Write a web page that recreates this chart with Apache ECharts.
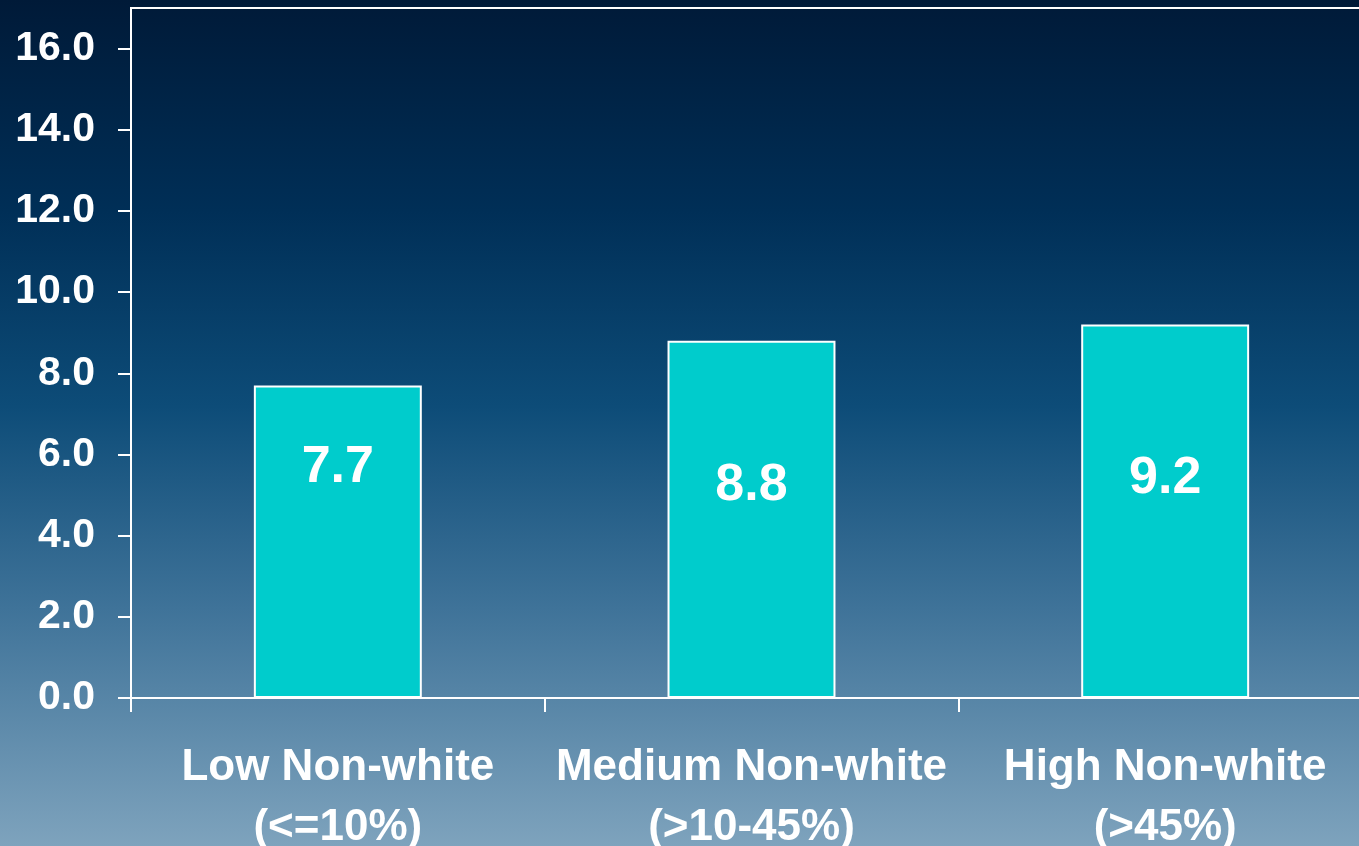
<!DOCTYPE html>
<html>
<head>
<meta charset="utf-8">
<script src="https://cdn.jsdelivr.net/npm/echarts@6/dist/echarts.min.js"></script>
<style>
html,body{margin:0;padding:0;width:1359px;height:846px;overflow:hidden;}
#chart{width:1359px;height:846px;}
</style>
</head>
<body>
<div id="chart"></div>
<script>
// Data
const categories = ['Low Non-white\n(<=10%)', 'Medium Non-white\n(>10-45%)', 'High Non-white\n(>45%)'];
const values = [7.7, 8.8, 9.2];
const yTicks = [0, 2, 4, 6, 8, 10, 12, 14, 16];
// label vertical offsets (styling)
const labelOffsets = [-74, -34, -33];

const chart = echarts.init(document.getElementById('chart'));
const font = '"Liberation Sans", Arial, sans-serif';

const option = {
  backgroundColor: {
    type: 'linear', x: 0, y: 0, x2: 0, y2: 1,
    colorStops: [
      { offset: 0, color: '#001a38' },
      { offset: 0.25, color: '#002f57' },
      { offset: 0.48, color: '#0d4c78' },
      { offset: 0.72, color: '#3f7399' },
      { offset: 1, color: '#7ea3bd' }
    ]
  },
  animation: false,
  grid: {
    left: 131, right: -13, top: 8, bottom: 148,
    outerBoundsMode: 'none', containLabel: false,
    show: true, borderColor: '#ffffff', borderWidth: 2, backgroundColor: 'transparent'
  },
  xAxis: {
    type: 'category',
    data: categories,
    axisLine: { show: true, lineStyle: { color: '#ffffff', width: 2 } },
    axisTick: { show: true, length: 14, alignWithLabel: false, lineStyle: { color: '#ffffff', width: 2 } },
    axisLabel: {
      color: '#ffffff', fontFamily: font, fontWeight: 'bold', fontSize: 44,
      lineHeight: 60, margin: 40, interval: 0
    },
    splitLine: { show: false }
  },
  yAxis: {
    type: 'value',
    min: 0, max: 17,
    axisLine: { show: true, lineStyle: { color: '#ffffff', width: 2 } },
    axisTick: { show: true, length: 13, customValues: yTicks, lineStyle: { color: '#ffffff', width: 2 } },
    axisLabel: {
      customValues: yTicks,
      color: '#ffffff', fontFamily: font, fontWeight: 'bold', fontSize: 41, margin: 36,
      padding: [5, 0, 0, 0],
      formatter: v => v.toFixed(1)
    },
    splitLine: { show: false }
  },
  series: [{
    type: 'bar',
    barWidth: '40.6%',
    data: values.map((v, i) => ({
      value: v,
      label: { offset: [0, labelOffsets[i]] }
    })),
    itemStyle: { color: '#00cccc', borderColor: '#ffffff', borderWidth: 2 },
    label: {
      show: true, position: 'inside', color: '#ffffff',
      fontFamily: font, fontWeight: 'bold', fontSize: 52,
      formatter: p => p.value.toFixed(1)
    }
  }]
};
chart.setOption(option);
</script>
</body>
</html>
